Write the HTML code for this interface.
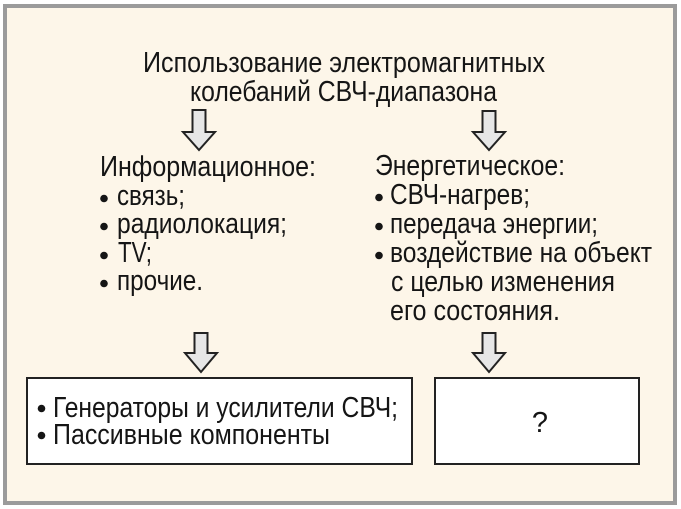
<!DOCTYPE html>
<html>
<head>
<meta charset="utf-8">
<style>
  html, body { margin: 0; padding: 0; background: #ffffff; }
  svg { display: block; }
  text { font-family: "Liberation Sans", "Noto Sans CJK SC", sans-serif; font-size: 29px; fill: #151515; }
</style>
</head>
<body>
<svg width="681" height="509" viewBox="0 0 681 509" xmlns="http://www.w3.org/2000/svg">
  <rect x="0" y="0" width="681" height="509" fill="#ffffff"/>
  <!-- outer frame -->
  <rect x="5" y="6" width="670" height="497" fill="#fdf6e9" stroke="#9b9b9b" stroke-width="4"/>

  <!-- title -->
  <text x="143" y="72" textLength="402" lengthAdjust="spacingAndGlyphs">Использование электромагнитных</text>
  <text x="190" y="101" textLength="307" lengthAdjust="spacingAndGlyphs">колебаний СВЧ-диапазона</text>

  <!-- arrows -->
  <g fill="#e6e6e6" stroke="#222" stroke-width="2" stroke-linejoin="miter">
    <path d="M192.5,110 L205.5,110 L205.5,132 L215,132 L199,150 L183,132 L192.5,132 Z"/>
    <path d="M482.5,111 L495.5,111 L495.5,132 L505,132 L489,150 L473,132 L482.5,132 Z"/>
    <path d="M194.5,333 L207.5,333 L207.5,353 L217,353 L201,372 L185,353 L194.5,353 Z"/>
    <path d="M482.5,333 L495.5,333 L495.5,353 L505,353 L489,372 L473,353 L482.5,353 Z"/>
  </g>

  <!-- left column -->
  <text x="100" y="176" textLength="216" lengthAdjust="spacingAndGlyphs">Информационное:</text>
  <g fill="#151515">
    <circle cx="104" cy="198.5" r="3.8"/>
    <circle cx="104" cy="226.5" r="3.8"/>
    <circle cx="104" cy="255.5" r="3.8"/>
    <circle cx="104" cy="283.5" r="3.8"/>
  </g>
  <text x="117" y="205" textLength="68" lengthAdjust="spacingAndGlyphs">связь;</text>
  <text x="117" y="233" textLength="170" lengthAdjust="spacingAndGlyphs">радиолокация;</text>
  <text x="118" y="262" textLength="34" lengthAdjust="spacingAndGlyphs">TV;</text>
  <text x="117" y="290" textLength="86" lengthAdjust="spacingAndGlyphs">прочие.</text>

  <!-- right column -->
  <text x="375" y="175" textLength="190" lengthAdjust="spacingAndGlyphs">Энергетическое:</text>
  <g fill="#151515">
    <circle cx="379" cy="197.5" r="3.8"/>
    <circle cx="379" cy="226.5" r="3.8"/>
    <circle cx="379" cy="255.5" r="3.8"/>
  </g>
  <text x="390" y="204" textLength="140" lengthAdjust="spacingAndGlyphs">СВЧ-нагрев;</text>
  <text x="390" y="233" textLength="208" lengthAdjust="spacingAndGlyphs">передача энергии;</text>
  <text x="390" y="262" textLength="262" lengthAdjust="spacingAndGlyphs">воздействие на объект</text>
  <text x="391" y="291" textLength="224" lengthAdjust="spacingAndGlyphs">с целью изменения</text>
  <text x="390" y="320" textLength="170" lengthAdjust="spacingAndGlyphs">его состояния.</text>

  <!-- bottom boxes -->
  <rect x="27" y="378" width="385" height="86" fill="#ffffff" stroke="#222" stroke-width="2"/>
  <rect x="435" y="378" width="204" height="86" fill="#ffffff" stroke="#222" stroke-width="2"/>
  <g fill="#151515">
    <circle cx="41.5" cy="408.5" r="3.8"/>
    <circle cx="41.5" cy="435.5" r="3.8"/>
  </g>
  <text x="53" y="417" textLength="345" lengthAdjust="spacingAndGlyphs">Генераторы и усилители СВЧ;</text>
  <text x="53" y="444" textLength="277" lengthAdjust="spacingAndGlyphs">Пассивные компоненты</text>
  <text x="540" y="432" text-anchor="middle">?</text>
</svg>
</body>
</html>
